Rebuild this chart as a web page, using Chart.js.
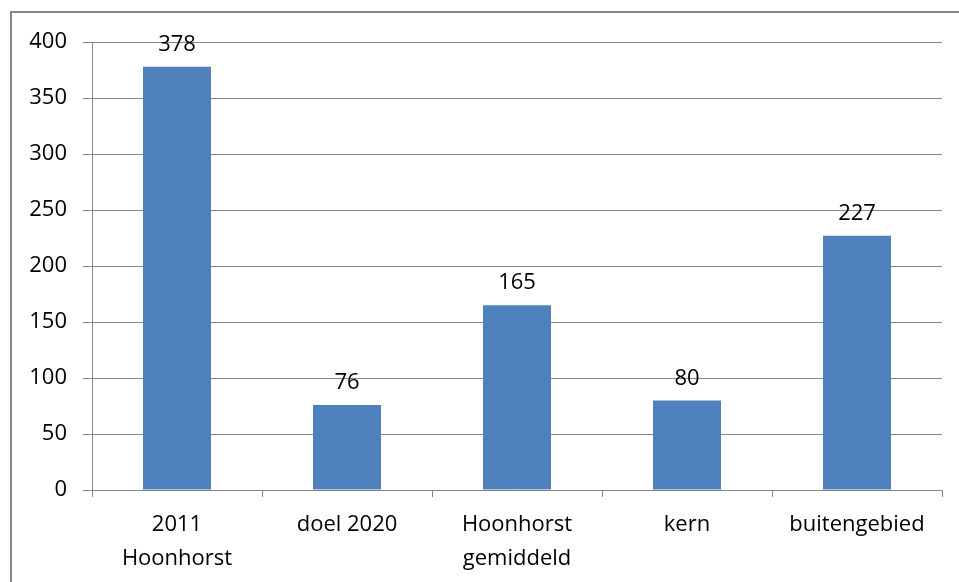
<!DOCTYPE html>
<html lang="nl">
<head>
  <meta charset="UTF-8">
  <title>Hoonhorst</title>
  <script src="https://cdn.jsdelivr.net/npm/chart.js"></script>
  <style>
    html, body { margin: 0; padding: 0; background: #fff; overflow: hidden; }
    #frame { position: absolute; left: 10px; top: 11px; width: 1000px; height: 700px; border: 2px solid #878787; }
    #wrap { position: absolute; left: 0; top: 0; width: 959px; height: 582px; }
  </style>
</head>
<body>
  <div id="frame"></div>
  <div id="wrap"><canvas id="chart"></canvas></div>
  <script>
    const categories = [["2011", "Hoonhorst"], "doel 2020", ["Hoonhorst", "gemiddeld"], "kern", "buitengebied"];
    const values = [378, 76, 165, 80, 227];
    const yMax = 400;
    const yStep = 50;

    const fontFamily = "'Open Sans', Lato, sans-serif";

    // waarde boven elke staaf
    const valueLabels = {
      id: 'valueLabels',
      afterDatasetsDraw(chart) {
        const ctx = chart.ctx;
        const meta = chart.getDatasetMeta(0);
        ctx.save();
        ctx.font = "22px " + fontFamily;
        ctx.fillStyle = '#000';
        ctx.textAlign = 'center';
        ctx.textBaseline = 'bottom';
        meta.data.forEach((bar, i) => {
          ctx.fillText(values[i], bar.x, bar.y - 11);
        });
        ctx.restore();
      }
    };

    new Chart(document.getElementById('chart'), {
      type: 'bar',
      data: {
        labels: categories,
        datasets: [{
          data: values,
          backgroundColor: '#4F81BD',
          categoryPercentage: 1,
          barPercentage: 0.4
        }]
      },
      options: {
        responsive: true,
        maintainAspectRatio: false,
        animation: false,
        layout: { padding: { left: 0, top: 42, right: 17, bottom: 0 } },
        plugins: { legend: { display: false }, tooltip: { enabled: false } },
        scales: {
          x: {
            offset: true,
            grid: { offset: true, drawOnChartArea: false, color: '#878787', tickLength: 7 },
            border: { color: '#878787' },
            ticks: { color: '#000', font: { family: fontFamily, size: 22, lineHeight: 1.55 }, padding: 11, maxRotation: 0 },
            afterFit(scale) { scale.height = 92; }
          },
          y: {
            min: 0,
            max: yMax,
            grid: { color: '#878787', tickLength: 9 },
            border: { color: '#878787' },
            ticks: { stepSize: yStep, color: '#000', font: { family: fontFamily, size: 22 }, padding: 16 },
            afterFit(scale) { scale.width = 92; }
          }
        }
      },
      plugins: [valueLabels]
    });
  </script>
</body>
</html>
